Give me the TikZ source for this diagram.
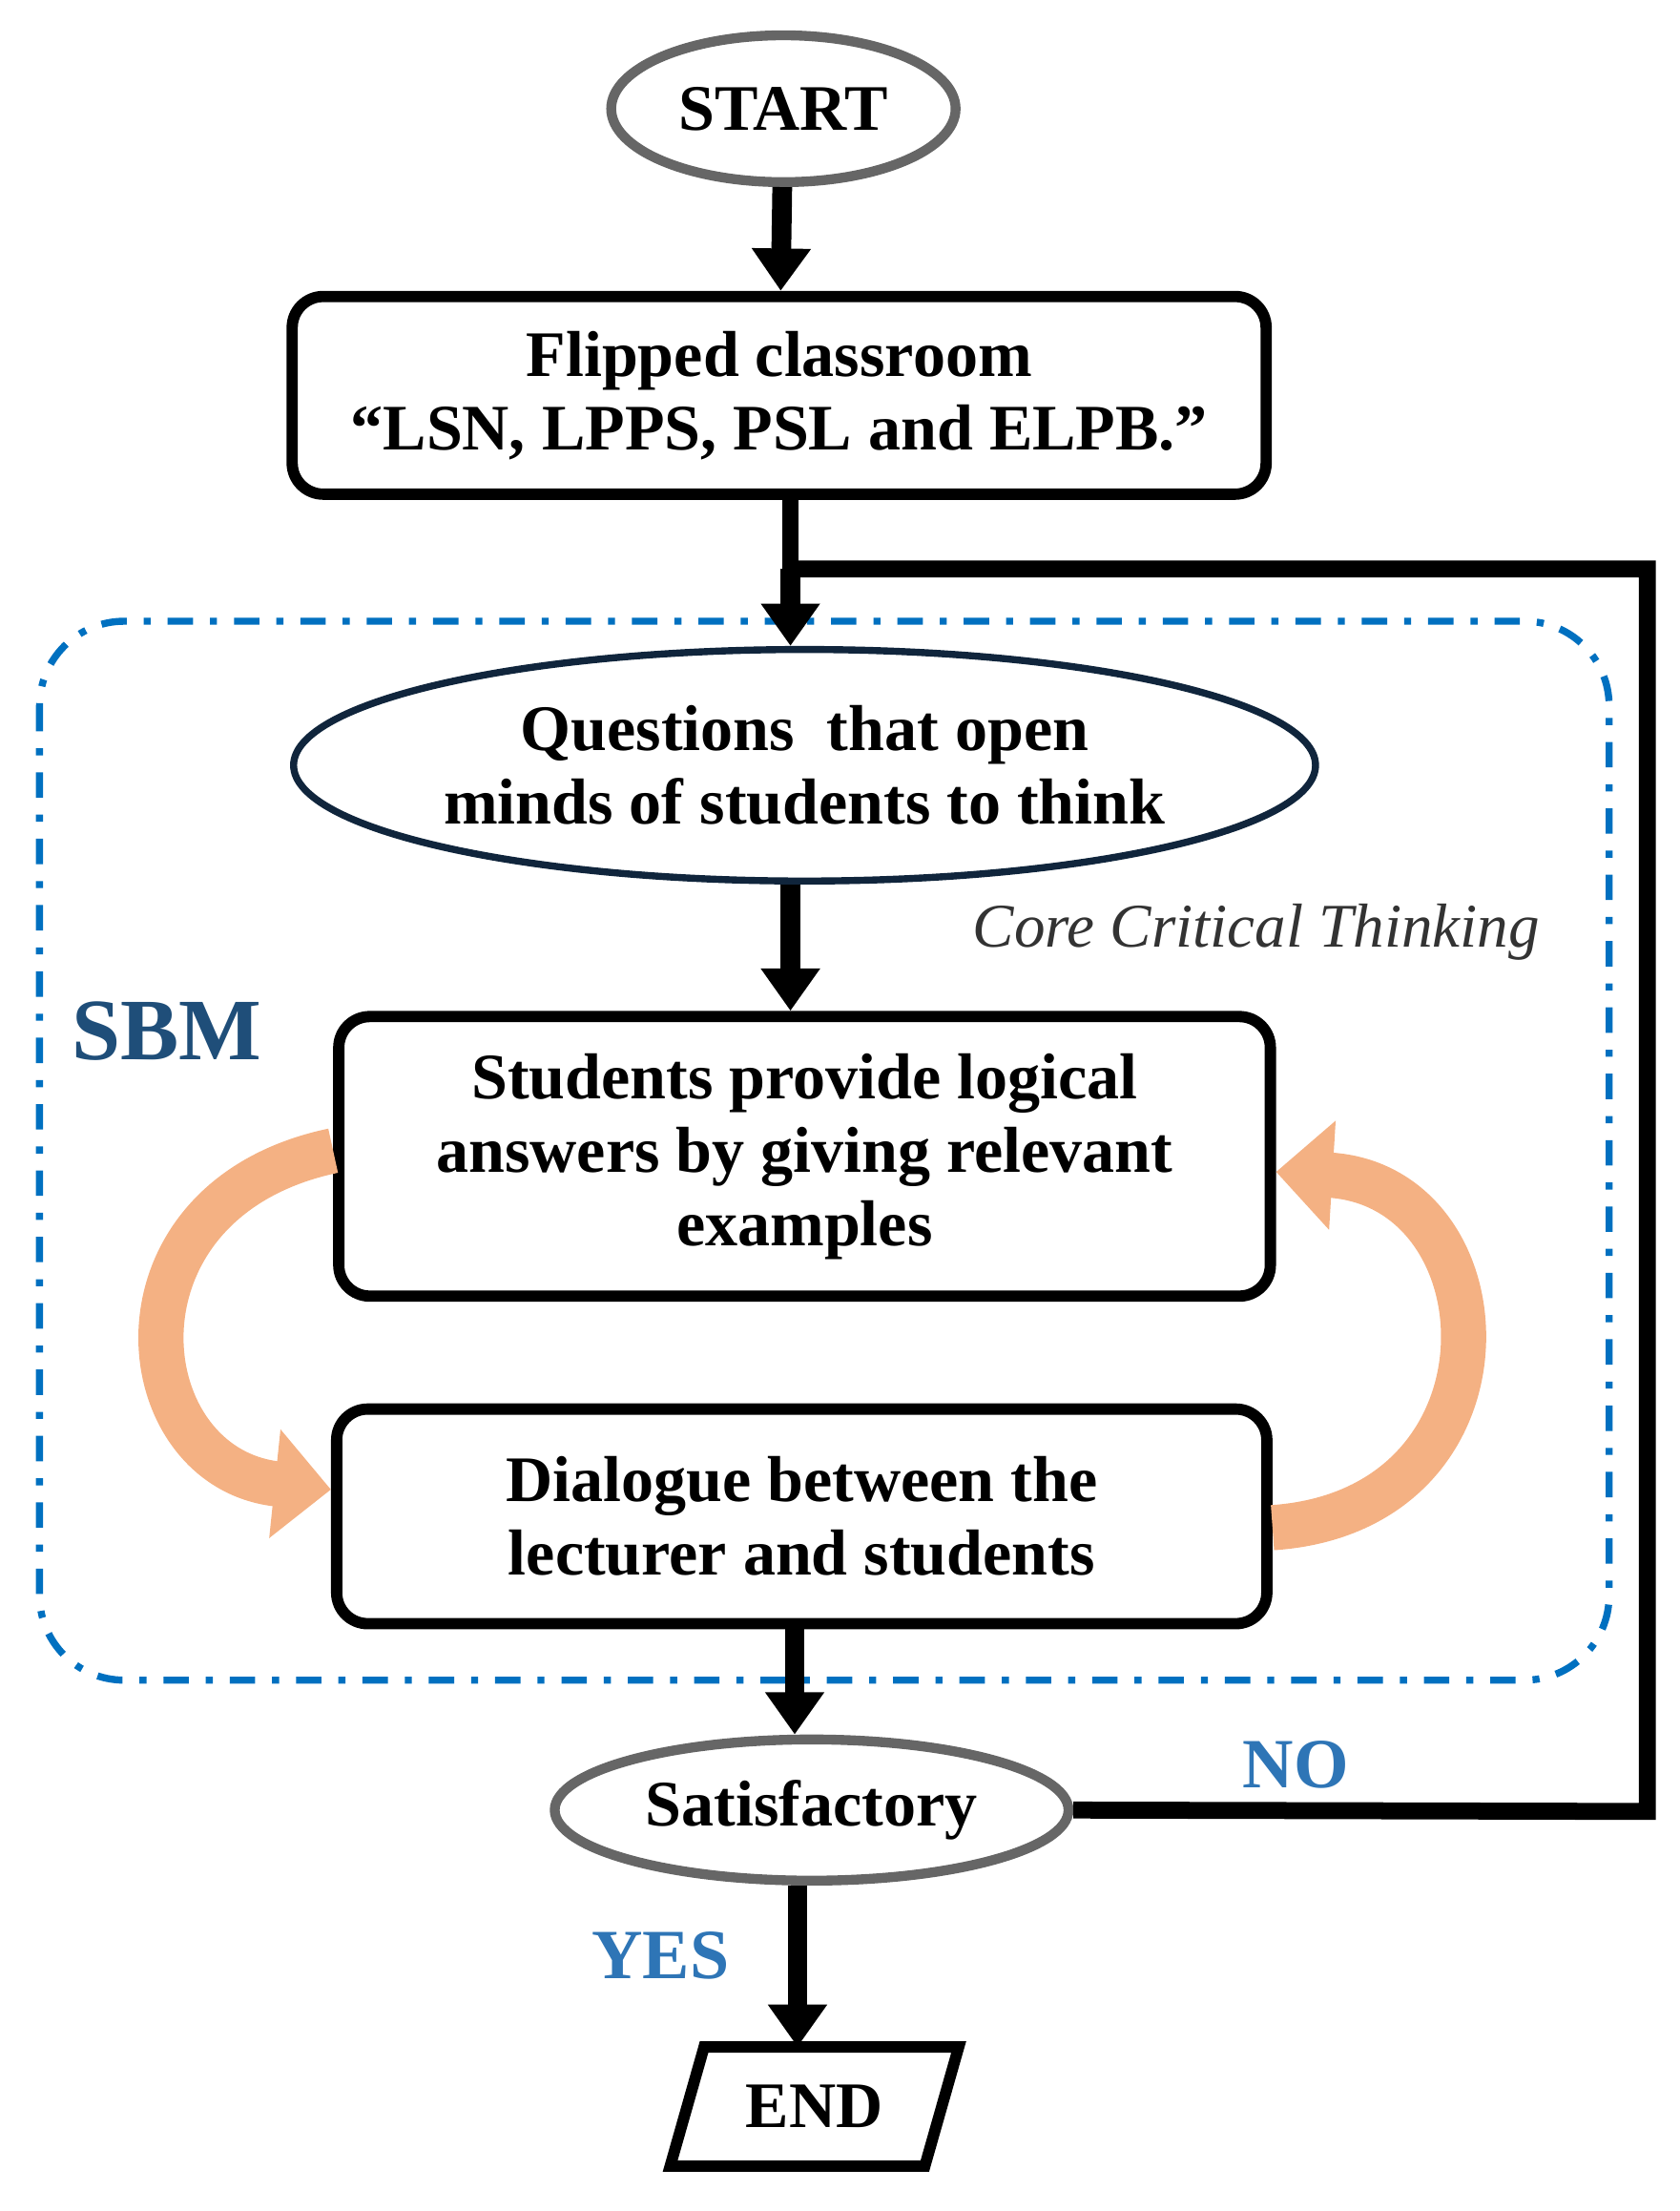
\documentclass[tikz,border=0pt]{standalone}
\usepackage{fontspec}
\setmainfont{Liberation Serif}
\usetikzlibrary{arrows.meta,shapes.geometric}
\definecolor{peach}{RGB}{244,177,131}
\definecolor{sbm}{RGB}{31,78,121}
\definecolor{dblue}{RGB}{0,112,192}
\definecolor{yn}{RGB}{46,117,182}
\definecolor{navy}{RGB}{16,37,60}
\begin{document}
\begin{tikzpicture}[x=1pt,y=-1pt,
  txt/.style={font=\fontsize{46}{52}\selectfont\bfseries,align=center},
  box/.style={txt,draw=black,line width=8pt,rounded corners=22pt,minimum width=#1,inner sep=0pt},
  ell/.style={txt,ellipse,draw=#1,line width=7pt,inner sep=0pt},
  flow/.style={line width=14pt,-{Triangle[width=40pt,length=30pt]}},
  plain/.style={line width=12pt},
  swirl/.style={line width=32pt,draw=peach,-{Triangle[width=75pt,length=40pt]}}]
\useasboundingbox (0,0) rectangle (1190,1566);
\draw[dblue,line width=5pt,dash pattern=on 18pt off 12pt on 5pt off 12pt,rounded corners=60pt] (28,440) rectangle (1140,1190);
\node[ell=gray!80!black,minimum width=244pt,minimum height=104pt] (start) at (555,77) {START};
\node[box=690pt,minimum height=140pt] (flip) at (552,280) {Flipped classroom\\“LSN, LPPS, PSL and ELPB.”};
\node[ell=navy,line width=5pt,minimum width=724pt,minimum height=164pt] (q) at (570,542) {Questions\ \ that open\\minds of students to think};
\node[box=660pt,minimum height=198pt] (stud) at (570,819) {Students provide logical\\answers by giving relevant\\examples};
\node[box=659pt,minimum height=152pt] (dia) at (568,1074) {Dialogue between the\\lecturer and students};
\node[ell=gray!80!black,minimum width=364pt,minimum height=100pt] (sat) at (575,1282) {Satisfactory};
\node[txt,minimum width=200pt,minimum height=84pt,inner sep=0pt] (end) at (577,1492) {END};
\draw[line width=8pt,line join=miter] ([xshift=-2pt]end.south west) -- ([xshift=22pt]end.north west) -- ([xshift=2pt]end.north east) -- ([xshift=-22pt]end.south east) -- cycle;
\node[font=\fontsize{44}{50}\selectfont\itshape,text=black!80] (core) at (890,660) {Core Critical Thinking};
\node[font=\fontsize{62}{70}\selectfont\bfseries,text=sbm] (sbmlbl) at (118,730) {SBM};
\node[font=\fontsize{50}{56}\selectfont\bfseries,text=yn] (nolbl) at (918,1250) {NO};
\node[font=\fontsize{50}{56}\selectfont\bfseries,text=yn] (yeslbl) at (468,1385) {YES};
\coordinate (j) at (560,403);
\coordinate (r1) at (1167,403);
\coordinate (r2) at (1167,1283);
\draw[flow] (start) -- (flip);
\draw[plain] (flip.south -| j) -- (j);
\draw[flow] (j) -- (q.north -| j);
\draw[plain] (j) -- (r1) -- (r2) -- (sat.east);
\draw[flow] (q.south -| 560,0) -- (stud.north -| 560,0);
\draw[flow] (dia.south -| 563,0) -- (sat.north -| 563,0);
\draw[flow] (sat.south -| 565,0) -- (end.north -| 565,0);
\draw[swirl] (stud.west |- 0,815) .. controls (70,850) and (90,1040) .. (dia.west |- 0,1055);
\draw[swirl] (dia.east |- 0,1082) .. controls (1080,1070) and (1070,840) .. (stud.east |- 0,830);
\end{tikzpicture}
\end{document}
